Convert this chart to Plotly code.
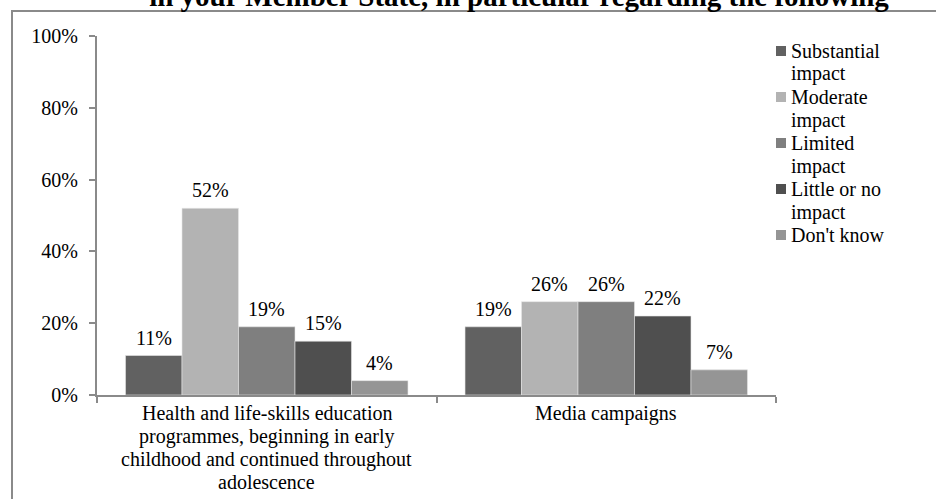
import plotly.graph_objects as go

# Survey answers, share of respondents (%)
categories = [
    "Health and life-skills education<br>programmes, beginning in early<br>childhood and continued throughout<br>adolescence",
    "Media campaigns",
]
series_names = [
    "Substantial<br>impact",
    "Moderate<br>impact",
    "Limited<br>impact",
    "Little or no<br>impact",
    "Don't know",
]
substantial = [11, 19]
moderate = [52, 26]
limited = [19, 26]
little_or_no = [15, 22]
dont_know = [4, 7]

series_values = [substantial, moderate, limited, little_or_no, dont_know]
series_colors = ["#616161", "#b3b3b3", "#7f7f7f", "#4f4f4f", "#959595"]

title_text = "in your Member State, in particular regarding the following"
y_ticks = [0, 20, 40, 60, 80, 100]
y_tick_labels = [f"{v}%" for v in y_ticks]

SERIF = "Liberation Serif, Times New Roman, serif"
AXIS_GREY = "#8a8a8a"

W, H = 936, 499
L, R, T, B = 97, 160, 36, 104
plot_w = W - L - R
plot_h = H - T - B
BARGAP = 0.168
n_series = len(series_values)
bar_px = plot_w / len(categories) * (1 - BARGAP) / n_series
LINE_H = 23


def px_to_paper_x(px):
    return (px - L) / plot_w


def px_to_paper_y(py):
    return (H - B - py) / plot_h


fig = go.Figure()
for name, vals, col in zip(series_names, series_values, series_colors):
    fig.add_trace(go.Bar(
        x=categories,
        y=vals,
        name=name.replace("<br>", " "),
        marker=dict(color=col, line=dict(color="#e6e6e6", width=0.6)),
        cliponaxis=False,
        showlegend=False,
    ))

# Value labels above each bar, offset to the bar's slot within its group
for i, vals in enumerate(series_values):
    shift = (i - (n_series - 1) / 2) * bar_px
    for cat, v in zip(categories, vals):
        fig.add_annotation(
            x=cat, y=v, xref="x", yref="y",
            text=f"{v}%", showarrow=False,
            xshift=shift, yshift=5, yanchor="bottom",
            font=dict(family=SERIF, size=20, color="#000000"),
        )

# Category labels, one annotation per line for tighter line spacing
for cat in categories:
    for j, line in enumerate(cat.split("<br>")):
        fig.add_annotation(
            x=cat, y=0, xref="x", yref="y",
            text=line, showarrow=False,
            yanchor="middle", yshift=-(18 + j * LINE_H),
            font=dict(family=SERIF, size=20, color="#000000"),
        )

# Legend: colour key squares with wrapped series names
legend_top = 51
legend_sq_x, legend_txt_x = 776, 789
line_no = 0
for name, col in zip(series_names, series_colors):
    cy = legend_top + line_no * LINE_H
    fig.add_shape(
        type="rect", xref="paper", yref="paper",
        x0=px_to_paper_x(legend_sq_x), x1=px_to_paper_x(legend_sq_x + 10),
        y0=px_to_paper_y(cy + 5), y1=px_to_paper_y(cy - 5),
        fillcolor=col, line=dict(width=0),
    )
    for j, line in enumerate(name.split("<br>")):
        fig.add_annotation(
            x=px_to_paper_x(legend_txt_x), y=px_to_paper_y(cy + j * LINE_H),
            xref="paper", yref="paper", xanchor="left", yanchor="middle",
            text=line, showarrow=False,
            font=dict(family=SERIF, size=20, color="#000000"),
        )
    line_no += len(name.split("<br>"))

# Outer chart frame (runs off the right and bottom edges)
fig.add_shape(
    type="rect", xref="paper", yref="paper",
    x0=px_to_paper_x(12), x1=1.5,
    y0=-0.6, y1=px_to_paper_y(11),
    line=dict(color=AXIS_GREY, width=2),
    fillcolor="rgba(0,0,0,0)", layer="below",
)

fig.update_layout(
    width=W, height=H,
    margin=dict(l=L, r=R, t=T, b=B, pad=0, autoexpand=False),
    paper_bgcolor="white", plot_bgcolor="white",
    barmode="group", bargap=BARGAP, bargroupgap=0,
    font=dict(family=SERIF, color="#000000"),
    title=dict(
        text=title_text,
        font=dict(family=SERIF, size=29, color="#000000", weight="bold"),
        x=519 / W, xanchor="center", xref="container",
        y=1 - 6 / H, yanchor="bottom", yref="container",
    ),
    showlegend=False,
)

fig.update_yaxes(
    range=[0, 100], tickvals=y_ticks, ticktext=y_tick_labels,
    showgrid=False, zeroline=False, automargin=False,
    showline=True, linecolor=AXIS_GREY, linewidth=2,
    ticks="outside", ticklen=6, tickwidth=2, tickcolor=AXIS_GREY,
    tickfont=dict(family=SERIF, size=20, color="#000000"),
    ticklabelstandoff=7,
)
fig.update_xaxes(
    showgrid=False, zeroline=False, automargin=False,
    showline=True, linecolor=AXIS_GREY, linewidth=2,
    ticks="outside", ticklen=6, tickwidth=2, tickcolor=AXIS_GREY,
    tickson="boundaries", showticklabels=False,
)

fig.write_html("out.html")
